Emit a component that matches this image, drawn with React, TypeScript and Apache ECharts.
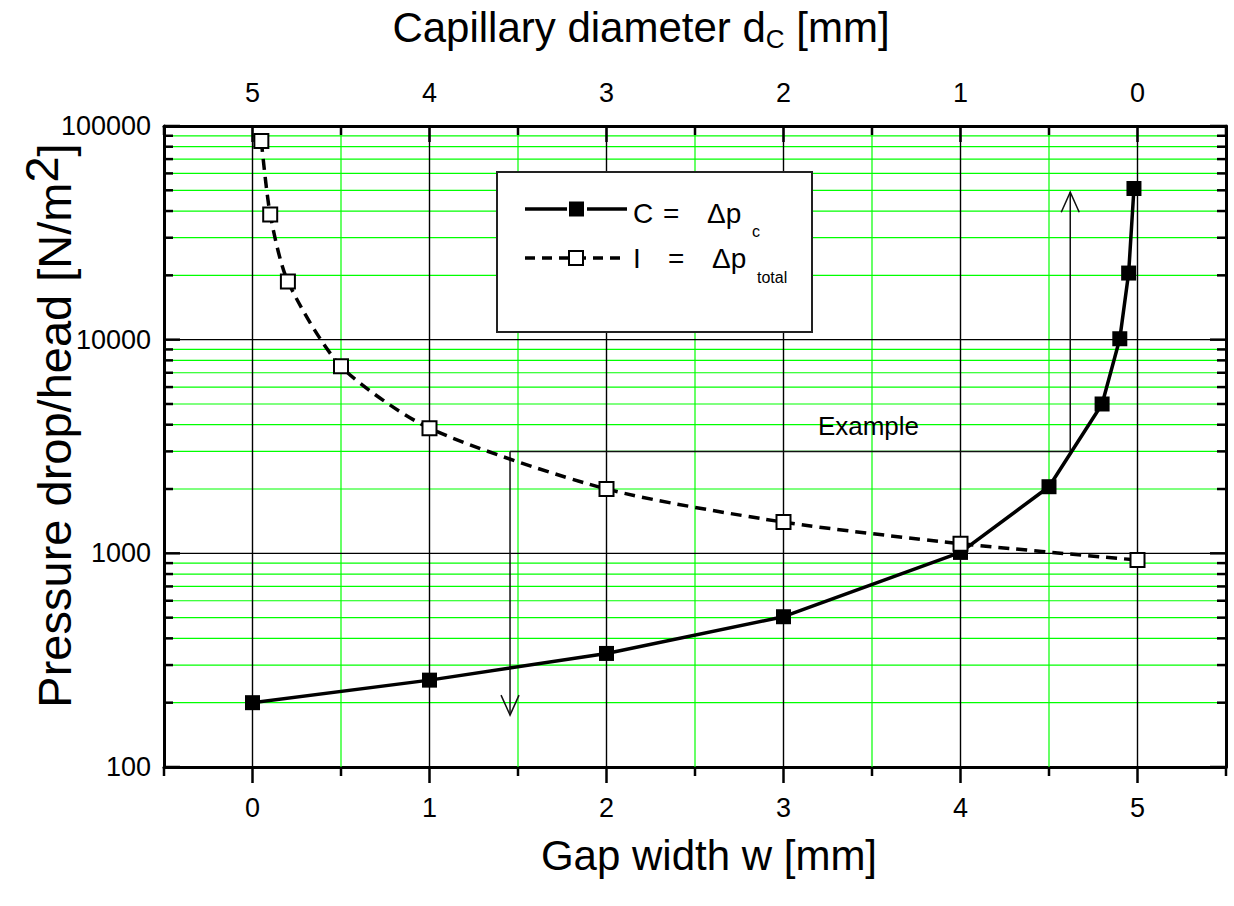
import React, { useEffect, useRef } from 'react';
import * as echarts from 'echarts';

const FONT = '"Liberation Sans", Arial, Helvetica, sans-serif';

// ---- data ----
const gapWidthC = [0, 1, 2, 3, 4, 4.5, 4.8, 4.9, 4.95, 4.98];
const pressureDropC = [200, 255, 340, 505, 1010, 2050, 5000, 10100, 20500, 51000];
const gapWidthI = [0.05, 0.1, 0.2, 0.5, 1, 2, 3, 4, 5];
const pressureDropI = [85000, 38500, 18700, 7500, 3850, 2000, 1400, 1110, 930];

// ---- axes / ticks ----
const xMin = -0.5;
const xMax = 5.5;
const xStep = 0.5;
const yMin = 100;
const yMax = 100000;
const xMajorValues = [0, 1, 2, 3, 4, 5];
const xMinorValues = [-0.5, 0.5, 1.5, 2.5, 3.5, 4.5, 5.5];
const gapTickLabels = ['0', '1', '2', '3', '4', '5'];
const capillaryTickLabels = ['5', '4', '3', '2', '1', '0'];
const yDecadeValues = [100, 1000, 10000, 100000];
const pressureTickLabels = ['100', '1000', '10000', '100000'];
const yMinorValues = [
  200, 300, 400, 500, 600, 700, 800, 900,
  2000, 3000, 4000, 5000, 6000, 7000, 8000, 9000,
  20000, 30000, 40000, 50000, 60000, 70000, 80000, 90000,
];

// ---- example annotation ----
const exampleLevel = 3000;
const exampleFromX = 1.455;
const exampleToX = 4.62;
const arrowDownTo = 175;
const arrowUpTo = 49000;
const exampleLabelX = 3.48;
const exampleLabel = 'Example';

const GREEN = '#00ff00';
const BLACK = '#000';

const seg = (x1: number, y1: number, x2: number, y2: number, stroke: string, lineWidth: number) => ({
  type: 'line',
  shape: { x1, y1, x2, y2 },
  style: { stroke, lineWidth },
});

const renderGrid = (_params: any, api: any) => {
  const children: any[] = [];
  const [xl, yb] = api.coord([xMin, yMin]);
  const [xr, yt] = api.coord([xMax, yMax]);
  xMinorValues.forEach((v) => {
    if (v <= xMin || v >= xMax) return;
    const x = api.coord([v, yMin])[0];
    children.push(seg(x, yt, x, yb, GREEN, 1.2));
  });
  yMinorValues.forEach((v) => {
    const y = api.coord([xMin, v])[1];
    children.push(seg(xl, y, xr, y, GREEN, 1.2));
  });
  xMajorValues.forEach((v) => {
    const x = api.coord([v, yMin])[0];
    children.push(seg(x, yt, x, yb, BLACK, 1.4));
  });
  yDecadeValues.forEach((v) => {
    if (v <= yMin || v >= yMax) return;
    const y = api.coord([xMin, v])[1];
    children.push(seg(xl, y, xr, y, BLACK, 1.4));
  });
  return { type: 'group', children };
};

const renderTicks = (_params: any, api: any) => {
  const children: any[] = [];
  const [xl, yb] = api.coord([xMin, yMin]);
  const [xr, yt] = api.coord([xMax, yMax]);
  const w = 2.5;
  xMinorValues.forEach((v) => {
    const x = api.coord([v, yMin])[0];
    children.push(seg(x, yb, x, yb + 9, BLACK, w));
    children.push(seg(x, yt, x, yt + 9, BLACK, w));
  });
  xMajorValues.forEach((v) => {
    const x = api.coord([v, yMin])[0];
    children.push(seg(x, yb, x, yb + 16, BLACK, w));
    children.push(seg(x, yt, x, yt + 16, BLACK, w));
  });
  yMinorValues.forEach((v) => {
    const y = api.coord([xMin, v])[1];
    children.push(seg(xl, y, xl + 9, y, BLACK, w));
    children.push(seg(xr, y, xr - 9, y, BLACK, w));
  });
  yDecadeValues.forEach((v) => {
    const y = api.coord([xMin, v])[1];
    children.push(seg(xl, y, xl + 16, y, BLACK, w));
    children.push(seg(xr, y, xr - 16, y, BLACK, w));
  });
  return { type: 'group', children };
};

const renderExample = (_params: any, api: any) => {
  const a = api.coord([exampleFromX, exampleLevel]);
  const b = api.coord([exampleToX, exampleLevel]);
  const d = api.coord([exampleFromX, arrowDownTo]);
  const u = api.coord([exampleToX, arrowUpTo]);
  const t = api.coord([exampleLabelX, exampleLevel]);
  const lw = 1.5;
  const col = '#111';
  return {
    type: 'group',
    children: [
      seg(a[0], a[1], b[0], b[1], col, lw),
      seg(a[0], a[1], d[0], d[1], col, lw),
      {
        type: 'polyline',
        shape: { points: [[d[0] - 9, d[1] - 20], [d[0], d[1]], [d[0] + 9, d[1] - 20]] },
        style: { stroke: col, lineWidth: lw, fill: 'none' },
      },
      seg(b[0], b[1], u[0], u[1], col, lw),
      {
        type: 'polyline',
        shape: { points: [[u[0] - 9, u[1] + 20], [u[0], u[1]], [u[0] + 9, u[1] + 20]] },
        style: { stroke: col, lineWidth: lw, fill: 'none' },
      },
      {
        type: 'text',
        x: t[0],
        y: t[1] - 25,
        style: {
          text: exampleLabel,
          fontSize: 26,
          fontFamily: FONT,
          fill: '#000',
          align: 'center',
          verticalAlign: 'middle',
        },
      },
    ],
  };
};

const xLabel = (labels: string[]) => (v: number) => {
  const r = Math.round(v);
  if (Math.abs(v - r) > 1e-6) return '';
  const i = xMajorValues.indexOf(r);
  return i >= 0 ? labels[i] : '';
};

const yLabel = (v: number) => {
  const i = yDecadeValues.findIndex((d) => Math.abs(d - v) / d < 1e-6);
  return i >= 0 ? pressureTickLabels[i] : '';
};

const txt = (text: string, x: number, y: number, fontSize: number) => ({
  type: 'text',
  x,
  y,
  z: 101,
  style: { text, fontSize, fontFamily: FONT, fill: '#000', align: 'left', verticalAlign: 'middle' },
});

const legendGraphic = {
  type: 'group',
  x: 497,
  y: 172,
  children: [
    {
      type: 'rect',
      z: 100,
      shape: { x: 0, y: 0, width: 315, height: 160 },
      style: { fill: '#fff', stroke: '#222', lineWidth: 2 },
    },
    { type: 'line', z: 101, shape: { x1: 28, y1: 37, x2: 70, y2: 37 }, style: { stroke: '#000', lineWidth: 3.5 } },
    { type: 'line', z: 101, shape: { x1: 90, y1: 37, x2: 130, y2: 37 }, style: { stroke: '#000', lineWidth: 3.5 } },
    { type: 'rect', z: 102, shape: { x: 72, y: 29.5, width: 15, height: 15 }, style: { fill: '#000' } },
    txt('C', 136, 41, 28),
    txt('=', 166, 41, 28),
    txt('Δp', 210, 41, 28),
    txt('c', 255, 59, 16),
    {
      type: 'line',
      z: 101,
      shape: { x1: 28, y1: 86, x2: 130, y2: 86 },
      style: { stroke: '#000', lineWidth: 3.5, lineDash: [10, 7] },
    },
    {
      type: 'rect',
      z: 102,
      shape: { x: 72, y: 79, width: 14, height: 14 },
      style: { fill: '#fff', stroke: '#000', lineWidth: 2 },
    },
    txt('I', 136, 86, 28),
    txt('=', 171, 86, 28),
    txt('Δp', 215, 86, 28),
    txt('total', 260, 105, 16),
  ],
};

const option: any = {
  animation: false,
  backgroundColor: '#fff',
  grid: { left: 164, right: 8, top: 126, bottom: 139, containLabel: false, outerBoundsMode: 'none' },
  xAxis: [
    {
      type: 'value',
      position: 'bottom',
      min: xMin,
      max: xMax,
      interval: xStep,
      axisLine: { show: true, onZero: false, lineStyle: { color: '#000', width: 3 } },
      axisTick: { show: false },
      splitLine: { show: false },
      axisLabel: { formatter: xLabel(gapTickLabels), fontSize: 27, color: '#000', fontFamily: FONT, margin: 27 },
      name: 'Gap width w [mm]',
      nameLocation: 'middle',
      nameGap: 67,
      nameMoveOverlap: false,
      nameTextStyle: { fontSize: 42, color: '#000', fontFamily: FONT, padding: [0, 0, 0, 28] },
    },
    {
      type: 'value',
      position: 'top',
      min: xMin,
      max: xMax,
      interval: xStep,
      axisLine: { show: true, onZero: false, lineStyle: { color: '#000', width: 3 } },
      axisTick: { show: false },
      splitLine: { show: false },
      axisLabel: { formatter: xLabel(capillaryTickLabels), fontSize: 27, color: '#000', fontFamily: FONT, margin: 20 },
      name: 'Capillary diameter d{sub|C} [mm]',
      nameLocation: 'middle',
      nameGap: 74,
      nameMoveOverlap: false,
      nameTextStyle: {
        fontSize: 42,
        lineHeight: 50,
        color: '#000',
        fontFamily: FONT,
        padding: [0, 108, 0, 0],
        rich: {
          sub: { fontSize: 26, lineHeight: 26, verticalAlign: 'bottom', color: '#000', fontFamily: FONT },
        },
      },
    },
  ],
  yAxis: [
    {
      type: 'log',
      logBase: 10,
      position: 'left',
      min: yMin,
      max: yMax,
      axisLine: { show: true, onZero: false, lineStyle: { color: '#000', width: 3 } },
      axisTick: { show: false },
      splitLine: { show: false },
      minorSplitLine: { show: false },
      axisLabel: { formatter: yLabel, fontSize: 27, color: '#000', fontFamily: FONT, margin: 13 },
      name: 'Pressure drop/head [N/m{sup|2}]',
      nameLocation: 'middle',
      nameGap: 74,
      nameMoveOverlap: false,
      nameTextStyle: {
        fontSize: 47,
        lineHeight: 72,
        color: '#000',
        fontFamily: FONT,
        padding: [0, 0, 0, 42],
        rich: {
          sup: { fontSize: 47, lineHeight: 47, verticalAlign: 'top', color: '#000', fontFamily: FONT },
        },
      },
    },
    {
      type: 'log',
      logBase: 10,
      position: 'right',
      min: yMin,
      max: yMax,
      axisLine: { show: true, onZero: false, lineStyle: { color: '#000', width: 3 } },
      axisTick: { show: false },
      axisLabel: { show: false },
      splitLine: { show: false },
    },
  ],
  series: [
    {
      type: 'custom',
      name: 'grid',
      coordinateSystem: 'cartesian2d',
      xAxisIndex: 0,
      yAxisIndex: 0,
      data: [[0, 1000]],
      renderItem: renderGrid,
      silent: true,
      clip: false,
      z: 1,
    },
    {
      type: 'custom',
      name: 'example',
      coordinateSystem: 'cartesian2d',
      xAxisIndex: 0,
      yAxisIndex: 0,
      data: [[exampleFromX, exampleLevel]],
      renderItem: renderExample,
      silent: true,
      clip: false,
      z: 2,
    },
    {
      type: 'line',
      name: 'C = Δp_c',
      xAxisIndex: 0,
      yAxisIndex: 0,
      data: gapWidthC.map((x, i) => [x, pressureDropC[i]]),
      symbol: 'rect',
      symbolSize: 15,
      itemStyle: { color: '#000' },
      lineStyle: { color: '#000', width: 3.5 },
      z: 3,
    },
    {
      type: 'line',
      name: 'I = Δp_total',
      xAxisIndex: 0,
      yAxisIndex: 0,
      data: gapWidthI.map((x, i) => [x, pressureDropI[i]]),
      symbol: 'rect',
      symbolSize: 14,
      smooth: 0.25,
      itemStyle: { color: '#fff', borderColor: '#000', borderWidth: 2 },
      lineStyle: { color: '#000', width: 3.5, type: [11, 7] },
      z: 4,
    },
    {
      type: 'custom',
      name: 'ticks',
      coordinateSystem: 'cartesian2d',
      xAxisIndex: 0,
      yAxisIndex: 0,
      data: [[0, 1000]],
      renderItem: renderTicks,
      silent: true,
      clip: false,
      z: 5,
    },
  ],
  graphic: [legendGraphic],
};

export default function App() {
  const ref = useRef<HTMLDivElement>(null);
  useEffect(() => {
    const chart = echarts.init(ref.current as HTMLDivElement, null, { renderer: 'svg' });
    chart.setOption(option);
    return () => chart.dispose();
  }, []);
  return (
    <div
      ref={ref}
      style={{ position: 'fixed', left: 0, top: 0, width: 1234, height: 906, background: '#fff' }}
    />
  );
}
